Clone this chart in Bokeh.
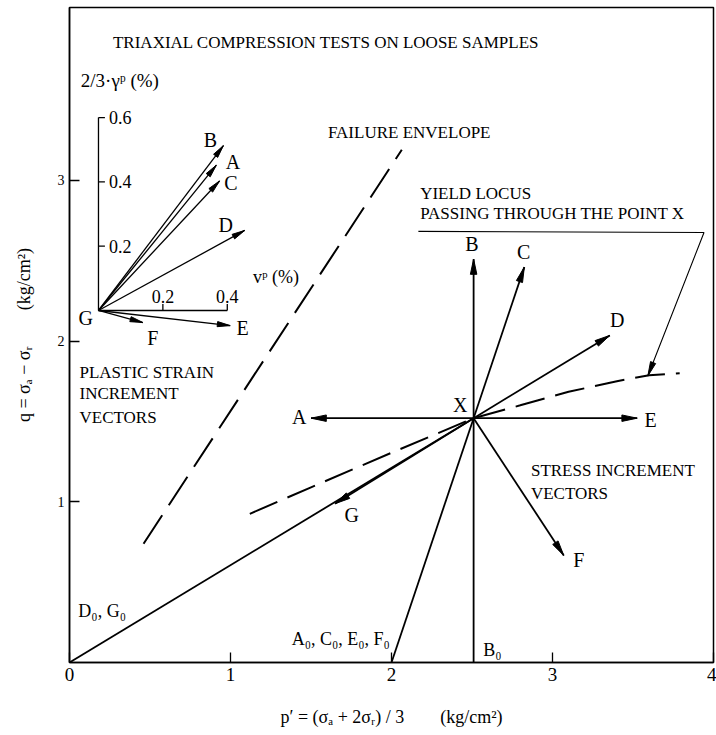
import math
from bokeh.plotting import figure
from bokeh.models import FixedTicker, Range1d
from bokeh.core.properties import value
from bokeh.embed import file_html
from bokeh.resources import INLINE

FONT = "Liberation Serif"

# ---------------- data ----------------
# main stress space, p' and q in kg/cm2
point_X = (2.51, 1.52)
stress_names = ["A", "B", "C", "D", "E", "F", "G"]
stress_tip_p = [1.50, 2.51, 2.825, 3.356, 3.526, 3.07, 1.649]
stress_tip_q = [1.52, 2.51, 2.46, 2.035, 1.52, 0.666, 0.988]

path_names = ["A₀, C₀, E₀, F₀", "B₀", "D₀, G₀"]
path_start_p = [2.0, 2.51, 0.0]
path_start_q = [0.0, 0.0, 0.0]

failure_p = [0.46, 2.064]
failure_q = [0.739, 3.19]

yield_p = [1.12, 1.50, 2.00, 2.51, 2.80, 3.10, 3.40, 3.60, 3.79]
yield_q = [0.925, 1.09, 1.305, 1.52, 1.60, 1.684, 1.75, 1.787, 1.80]
yield_pointer_p = [2.167, 3.941, 3.592]
yield_pointer_q = [2.682, 2.675, 1.782]

# inset: plastic strain increments (%)
strain_names = ["A", "B", "C", "D", "E", "F"]
strain_v = [0.366, 0.388, 0.376, 0.454, 0.409, 0.138]
strain_g = [0.452, 0.513, 0.403, 0.249, -0.047, -0.0375]
inset_origin = (0.18, 2.19)      # point G of the inset, in kg/cm2 units
inset_scale = 2.0                # kg/cm2 of plot per 1 % strain
inset_g_ticks = [0.2, 0.4, 0.6]
inset_v_ticks = [0.2, 0.4]

x_ticks = [0, 1, 2, 3, 4]
y_ticks = [1, 2, 3]

# ---------------- figure ----------------
p = figure(width=716, height=735, x_range=Range1d(0, 4), y_range=Range1d(0, 4.075),
           output_backend="svg", toolbar_location=None,
           min_border_left=69, min_border_right=3, min_border_top=7, min_border_bottom=73)
p.grid.visible = False
p.outline_line_color = "black"
p.outline_line_width = 1.5
p.background_fill_color = "white"
p.border_fill_color = "white"

for ax in (p.xaxis[0], p.yaxis[0]):
    ax.axis_line_width = 1.5
    ax.major_tick_in = 10
    ax.major_tick_out = 0
    ax.minor_tick_line_color = None
    ax.major_tick_line_width = 1.3
    ax.major_label_text_font = FONT
    ax.major_label_text_color = "black"
    ax.axis_label_text_font = FONT
    ax.axis_label_text_font_style = "normal"
    ax.axis_label_text_font_size = "18px"
    ax.axis_label_text_color = "black"
p.xaxis.ticker = FixedTicker(ticks=x_ticks)
p.yaxis.ticker = FixedTicker(ticks=y_ticks)
p.xaxis.major_label_text_font_size = "19px"
p.yaxis.major_label_text_font_size = "14px"
p.xaxis.major_label_standoff = 5
p.yaxis.major_label_standoff = 5
SP = "\u2003\u2003"
p.xaxis.axis_label = "p′ = (σₐ + 2σᵣ) / 3" + SP + "(kg/cm²)"
p.yaxis.axis_label = "q = σₐ − σᵣ" + SP + "(kg/cm²)"
p.xaxis.axis_label_standoff = 23
p.yaxis.axis_label_standoff = 21


def head(x0, y0, x1, y1, L, W):
    dx, dy = x1 - x0, y1 - y0
    n = math.hypot(dx, dy)
    ux, uy = dx / n, dy / n
    bx, by = x1 - L * ux, y1 - L * uy
    return [x1, bx - W * uy, bx + W * uy], [y1, by + W * ux, by - W * ux]


def txt(x, y, s, size=20, align="center", baseline="middle", style="normal"):
    p.text(x=[x], y=[y], text=[s], text_font=value(FONT), text_font_size=f"{size}px",
           text_align=align, text_baseline=baseline, text_color="black",
           text_font_style=style)


# ---------------- stress paths and stress increment vectors ----------------
Xp, Xq = point_X
p.segment(x0=path_start_p, y0=path_start_q, x1=[Xp] * 3, y1=[Xq] * 3,
          line_color="black", line_width=1.8)
p.segment(x0=[Xp] * len(stress_tip_p), y0=[Xq] * len(stress_tip_p),
          x1=stress_tip_p, y1=stress_tip_q, line_color="black", line_width=1.8)
hx, hy = [], []
for tp, tq in zip(stress_tip_p, stress_tip_q):
    a, b = head(Xp, Xq, tp, tq, 0.095, 0.02)
    hx.append(a)
    hy.append(b)
p.patches(xs=hx, ys=hy, fill_color="black", line_color="black", line_width=1)

# failure envelope and yield locus (dashed)
p.line(failure_p, failure_q, line_color="black", line_width=2, line_dash="34 12")
p.line(yield_p, yield_q, line_color="black", line_width=2, line_dash="30 11")
p.line(yield_pointer_p, yield_pointer_q, line_color="black", line_width=1.1)
a, b = head(yield_pointer_p[1], yield_pointer_q[1], yield_pointer_p[2], yield_pointer_q[2], 0.09, 0.017)
p.patch(a, b, fill_color="black", line_color="black")

# ---------------- inset: plastic strain increment vectors ----------------
Gx, Gy = inset_origin
p.line([Gx, Gx], [Gy, Gy + inset_scale * max(inset_g_ticks)], line_color="black", line_width=1.3)
p.line([Gx, Gx + inset_scale * max(inset_v_ticks)], [Gy, Gy], line_color="black", line_width=1.3)
tick_len = 0.04
p.segment(x0=[Gx] * len(inset_g_ticks), y0=[Gy + inset_scale * t for t in inset_g_ticks],
          x1=[Gx + tick_len] * len(inset_g_ticks), y1=[Gy + inset_scale * t for t in inset_g_ticks],
          line_color="black", line_width=1.3)
p.segment(x0=[Gx + inset_scale * t for t in inset_v_ticks], y0=[Gy] * len(inset_v_ticks),
          x1=[Gx + inset_scale * t for t in inset_v_ticks], y1=[Gy + tick_len] * len(inset_v_ticks),
          line_color="black", line_width=1.3)
for t in inset_g_ticks:
    txt(Gx + 0.065, Gy + inset_scale * t, f"{t:.1f}", size=18, align="left")
for t in inset_v_ticks:
    txt(Gx + inset_scale * t, Gy + 0.045, f"{t:.1f}", size=18, baseline="bottom")

sx = [Gx + inset_scale * v for v in strain_v]
sy = [Gy + inset_scale * g for g in strain_g]
p.segment(x0=[Gx] * len(sx), y0=[Gy] * len(sy), x1=sx, y1=sy, line_color="black", line_width=1.3)
hx, hy = [], []
for tx_, ty_ in zip(sx, sy):
    a, b = head(Gx, Gy, tx_, ty_, 0.08, 0.016)
    hx.append(a)
    hy.append(b)
p.patches(xs=hx, ys=hy, fill_color="black", line_color="black", line_width=1)

# ---------------- texts ----------------
txt(0.27, 3.857, "TRIAXIAL COMPRESSION TESTS ON LOOSE SAMPLES", size=17, align="left")
txt(0.07, 3.62, "2/3·γᵖ (%)", size=19, align="left")
txt(1.139, 2.396, "vᵖ (%)", size=18, align="left")

strain_label_pos = {"B": (0.876, 3.253), "A": (1.016, 3.113), "C": (1.002, 2.981),
                    "D": (0.971, 2.719), "E": (1.075, 2.078), "F": (0.518, 2.021)}
for n in strain_names:
    lx, ly = strain_label_pos[n]
    txt(lx, ly, n)
txt(0.10, 2.141, "G")

stress_label_pos = {"A": (1.427, 1.525), "B": (2.50, 2.605), "C": (2.821, 2.553),
                    "D": (3.402, 2.128), "E": (3.609, 1.51), "F": (3.163, 0.635),
                    "G": (1.753, 0.915)}
for n in stress_names:
    lx, ly = stress_label_pos[n]
    txt(lx, ly, n)
txt(2.427, 1.60, "X")

txt(1.99, 0.149, path_names[0], size=18, align="right")
txt(2.57, 0.075, path_names[1], size=18, align="left")
txt(0.055, 0.32, path_names[2], size=18, align="left")

txt(0.062, 1.806, "PLASTIC STRAIN", size=17, align="left")
txt(0.062, 1.672, "INCREMENT", size=17, align="left")
txt(0.062, 1.526, "VECTORS", size=17, align="left")

txt(2.866, 1.195, "STRESS INCREMENT", size=17, align="left")
txt(2.866, 1.05, "VECTORS", size=17, align="left")

txt(1.605, 3.30, "FAILURE ENVELOPE", size=17, align="left")
txt(2.178, 2.918, "YIELD LOCUS", size=17, align="left")
txt(2.178, 2.794, "PASSING THROUGH THE POINT X", size=17, align="left")

open("out.html", "w").write(file_html(p, INLINE))
